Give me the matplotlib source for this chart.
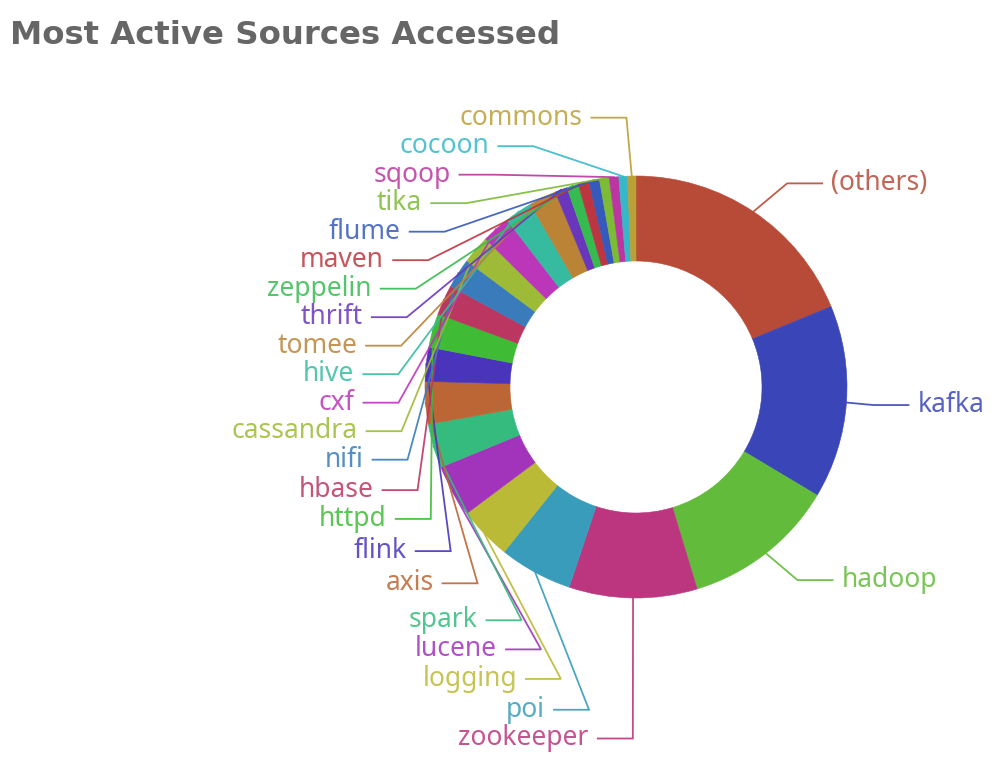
import numpy as np
import matplotlib.pyplot as plt

sources = ["(others)", "kafka", "hadoop", "zookeeper", "poi", "logging", "lucene",
           "spark", "axis", "flink", "httpd", "hbase", "nifi", "cassandra", "cxf",
           "hive", "tomee", "thrift", "zeppelin", "maven", "flume", "tika", "sqoop",
           "cocoon", "commons"]
accesses = [676, 533, 423, 353, 202, 146, 144, 122, 117, 94, 93, 83, 82, 78, 78,
            77, 75, 34, 32, 30, 29, 27, 26, 24, 23]
colors = ["#b84a38", "#3a46b8", "#62bb3a", "#bb367e", "#3a9cbb", "#bbba36", "#a234bb",
          "#36bb7e", "#bb6634", "#4a34bb", "#40bb36", "#bb3660", "#3a7cbb", "#9dbb36",
          "#bb36b8", "#36bba0", "#bb8336", "#6a36bb", "#36bb50", "#bb3640", "#365abb",
          "#7cbb36", "#bb36a0", "#36b8c8", "#bba036"]

W, H = 1006, 768
fig = plt.figure(figsize=(W / 100, H / 100), dpi=100)
ax = fig.add_axes([0, 0, 1, 1])

cx, cy, R, hole = 636, 387, 211, 126
# y axis is flipped below, so start at -90 and go counterclockwise -> clockwise from 12 o'clock
wedges, _ = ax.pie(accesses, colors=colors, center=(cx, cy), radius=R,
                   startangle=-90, counterclock=True,
                   wedgeprops=dict(width=R - hole, linewidth=0.4))
for w, col in zip(wedges, colors):
    w.set_edgecolor(col)
ax.set_xlim(0, W)
ax.set_ylim(H, 0)
ax.set_aspect("equal")
ax.axis("off")

# label layout (echarts-like): push labels apart vertically, then slide x on a curve
a = 245        # radius of the label elbow before shifting
len2 = 35      # horizontal piece of the leader line
gap = 9
r_text = 282
h = 28.5
top, bottom = 70, 767


def shift_up(ys, end, delta):
    for j in range(end, -1, -1):
        if ys[j] - delta < top:
            break
        ys[j] -= delta
        if j > 0 and ys[j] > ys[j - 1] + h:
            break


def shift_down(ys, start, end, delta):
    for j in range(start, end):
        if ys[j] + delta > bottom:
            break
        ys[j] += delta
        if j > start and j + 1 < end and ys[j + 1] > ys[j] + h:
            shift_up(ys, j, delta / 2)
            return
    shift_up(ys, end - 1, delta / 2)


items = []
for w, name, col in zip(wedges, sources, colors):
    mid = np.deg2rad((w.theta1 + w.theta2) / 2)
    ux, uy = np.cos(mid), np.sin(mid)
    items.append(dict(name=name, color=col, px=cx + R * ux, py=cy + R * uy,
                      side=-1 if ux < 0 else 1, y=cy + a * uy))

for side in (-1, 1):
    grp = sorted([it for it in items if it["side"] == side], key=lambda it: it["y"])
    ys = [it["y"] for it in grp]
    n = len(ys)
    last = 0
    for i in range(n):
        d = ys[i] - last
        if d < 0:
            shift_down(ys, i, n, -d)
        last = ys[i] + h
    if bottom - last < 0:
        shift_up(ys, n - 1, last - bottom)
    for it, yy in zip(grp, ys):
        it["y"] = yy

    up = [it for it in grp if it["y"] < cy]
    down = [it for it in grp if it["y"] >= cy]
    for lst, is_down in ((up, False), (down, True)):
        if not lst:
            continue
        B = max(abs(it["y"] - cy) for it in lst) + 10
        last_dx = 1e9 if is_down else 0
        for it in lst:
            dy = abs(it["y"] - cy)
            if dy < a:
                dx = np.sqrt(r_text ** 2 - dy ** 2)
            else:
                dx = 202 * np.sqrt(max(1 - (dy / B) ** 2, 0))
            if is_down and dx >= last_dx:
                dx = last_dx - 10
            if not is_down and dx <= last_dx:
                dx = last_dx + 10
            it["dx"] = dx
            last_dx = dx

for it in items:
    s = it["side"]
    tx = cx + s * it["dx"]
    lx = tx - s * gap
    ex = lx - s * len2
    ax.plot([it["px"], ex, lx], [it["py"], it["y"], it["y"]], color=it["color"],
            lw=1.3, alpha=0.9, solid_joinstyle="miter")
    ax.text(tx, it["y"], it["name"], ha="right" if s < 0 else "left", va="center",
            fontsize=19, family="Noto Sans", color=it["color"], alpha=0.85)

fig.text(10 / W, 1 - 35 / H, "Most Active Sources Accessed", fontsize=23.3,
         fontweight="bold", family="DejaVu Sans", color="#666666", va="center")

fig.savefig("out.png", dpi=100)
